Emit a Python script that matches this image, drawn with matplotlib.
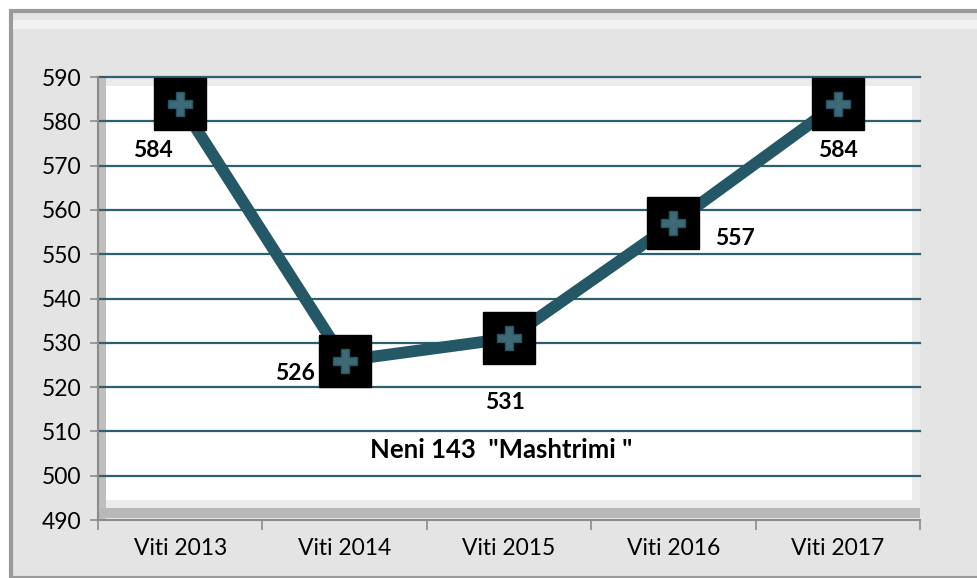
import matplotlib.pyplot as plt
from matplotlib.patches import Rectangle

years = ["Viti 2013", "Viti 2014", "Viti 2015", "Viti 2016", "Viti 2017"]
cases = [584, 526, 531, 557, 584]
label_offsets = [(-20, -34), (-36, -9), (-3, -46), (44, -11), (0, -34)]
title = 'Neni 143  "Mashtrimi "'

plt.rcParams['font.family'] = ['Lato', 'DejaVu Sans']

fig = plt.figure(figsize=(9.78, 5.78), dpi=100)
fig.patch.set_facecolor('white')
fig.patches.append(Rectangle((11 / 978, 0), 1, 1 - 11 / 578, transform=fig.transFigure,
                             facecolor='#e4e4e4', edgecolor='#9a9a9a', linewidth=3, zorder=-10))
fig.patches.append(Rectangle((13 / 978, 1 - 29 / 578), 1, 9 / 578, transform=fig.transFigure,
                             facecolor='#f2f2f2', edgecolor='none', zorder=-9))

ax = fig.add_axes([98 / 978, 58 / 578, 822 / 978, 443 / 578])
ax.set_facecolor('#ebebeb')

# 3d wall look
ax.add_patch(Rectangle((0.0097, 0.045), 0.98, 0.935, transform=ax.transAxes,
                       facecolor='white', edgecolor='none', zorder=0))
ax.add_patch(Rectangle((0, 0), 0.0097, 1, transform=ax.transAxes,
                       facecolor='#bfbfbf', edgecolor='none', zorder=0.5))
ax.add_patch(Rectangle((0, 0.005), 1, 0.022, transform=ax.transAxes,
                       facecolor='#b8b8b8', edgecolor='none', zorder=0.5))

x = list(range(len(years)))
ax.set_xlim(-0.5, len(years) - 0.5)
ax.set_ylim(490, 590)
ax.set_yticks(range(490, 591, 10))
ax.set_xticks(x)
ax.set_xticklabels(years)
ax.set_xticks([i - 0.5 for i in range(len(years) + 1)], minor=True)

for y in range(500, 591, 10):
    ax.axhline(y, color='#2d5f6e', linewidth=1.6, zorder=1, clip_on=False)

ax.plot(x, cases, color='#245866', linewidth=8.5, zorder=3, solid_capstyle='round')
ax.plot(x, cases, linestyle='none', marker='s', markersize=38, color='black', zorder=4)
ax.plot(x, cases, linestyle='none', marker='P', markersize=17, color='#3d6a76',
        markeredgecolor='#2a5462', zorder=5)

for xi, v, (dx, dy) in zip(x, cases, label_offsets):
    ax.annotate(str(v), (xi, v), xytext=(dx, dy), textcoords='offset points',
                ha='center', va='center', fontsize=16.5, fontweight='bold', color='black', zorder=6)

ax.text(0.491, 0.158, title, transform=ax.transAxes, ha='center', va='center',
        fontsize=18.5, fontweight='bold', color='black', zorder=6)

for s in ['top', 'right']:
    ax.spines[s].set_visible(False)
ax.spines['left'].set_color('#8c8c8c')
ax.spines['bottom'].set_color('#8c8c8c')
ax.spines['left'].set_linewidth(1.5)
ax.spines['bottom'].set_linewidth(1.5)

ax.tick_params(axis='y', length=6, width=1.2, color='#8c8c8c', labelsize=16.5, pad=6)
ax.tick_params(axis='x', which='major', length=0, labelsize=16.5, pad=13)
ax.tick_params(axis='x', which='minor', length=7, width=1.2, color='#8c8c8c')

fig.savefig('out.png', dpi=100, facecolor=fig.get_facecolor())
